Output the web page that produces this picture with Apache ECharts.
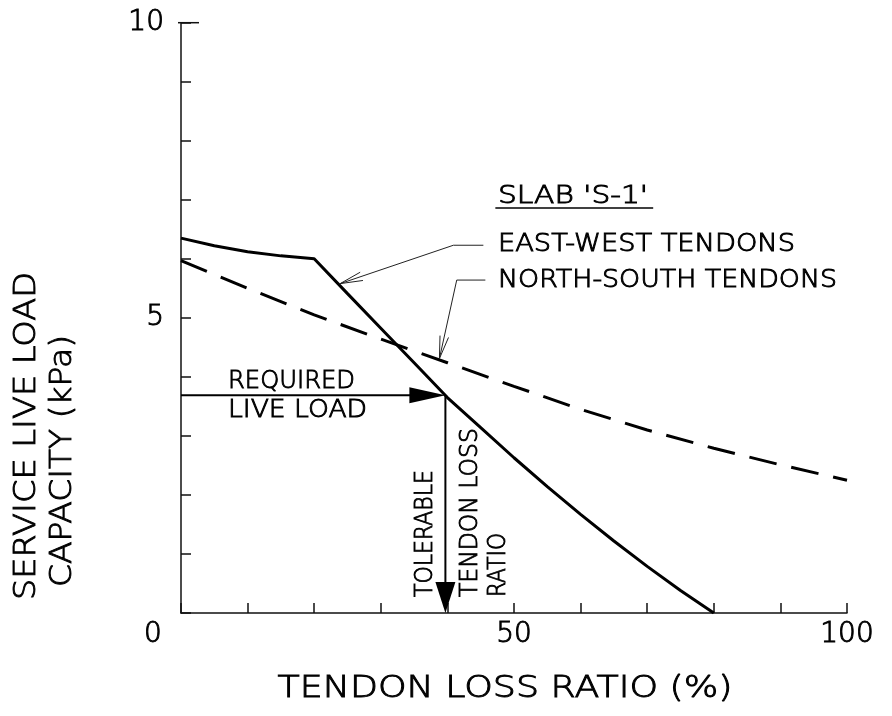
<!DOCTYPE html>
<html><head><meta charset="utf-8">
<script src="https://cdn.jsdelivr.net/npm/echarts@6/dist/echarts.min.js"></script>
<style>html,body{margin:0;padding:0;background:#fff}#c{width:892px;height:716px}</style>
</head><body><div id="c"></div>
<script>
// ---- data ----
const lossRatio = [0, 5, 10, 15, 20, 25, 30, 35, 40, 45, 50, 55, 60, 65, 70, 75, 80];
const eastWest = [6.35, 6.22, 6.12, 6.05, 6.0, 5.41, 4.825, 4.24, 3.65, 3.14, 2.63, 2.14, 1.67, 1.22, 0.79, 0.38, 0];
const nsLossRatio = [0, 10, 20, 30, 40, 50, 60, 70, 80, 90, 100];
const northSouth = [5.97, 5.5, 5.05, 4.64, 4.24, 3.84, 3.45, 3.1, 2.79, 2.51, 2.25];
const xTickLabels = [0, 50, 100];
const yTickLabels = [5, 10];
const requiredLiveLoad = 3.69;
const tolerableLoss = 39.7;

const FONT = '"DejaVu Sans", sans-serif';
const mctx = document.createElement('canvas').getContext('2d');
function measure(t, font) { mctx.font = font; return mctx.measureText(t).width; }

const chart = echarts.init(document.getElementById('c'), null, {renderer: 'canvas'});

function renderAnnot(params, api) {
  const c = p => api.coord(p);
  const ch = [];
  const blk = {stroke: '#000', lineWidth: 2};
  const A = c([0, requiredLiveLoad]), B = c([tolerableLoss, requiredLiveLoad]), C = c([tolerableLoss, 0]);
  ch.push({type: 'line', shape: {x1: A[0], y1: A[1], x2: B[0] - 30, y2: B[1]}, style: blk});
  ch.push({type: 'polygon', shape: {points: [[B[0], B[1]], [B[0] - 36, B[1] - 8], [B[0] - 36, B[1] + 8]]}, style: {fill: '#000'}});
  ch.push({type: 'line', shape: {x1: B[0], y1: B[1], x2: C[0], y2: C[1] - 28}, style: blk});
  ch.push({type: 'polygon', shape: {points: [[C[0], C[1]], [C[0] - 10, C[1] - 31], [C[0] + 10, C[1] - 31]]}, style: {fill: '#000'}});
  function leader(pts) {
    const p = pts.map(c);
    ch.push({type: 'polyline', shape: {points: p}, style: {stroke: '#222', lineWidth: 1, fill: null}});
    const tip = p[p.length - 1], prev = p[p.length - 2];
    const ang = Math.atan2(prev[1] - tip[1], prev[0] - tip[0]);
    [-1, 1].forEach(s => {
      const a = ang + s * 0.19;
      ch.push({type: 'line', shape: {x1: tip[0], y1: tip[1], x2: tip[0] + 23 * Math.cos(a), y2: tip[1] + 23 * Math.sin(a)}, style: {stroke: '#222', lineWidth: 1}});
    });
  }
  leader([[45.4, 6.23], [40.9, 6.23], [23.9, 5.58]]);
  leader([[45.7, 5.64], [41.4, 5.64], [38.8, 4.31]]);
  const u1 = c([47.2, 6.86]), u2 = c([70.9, 6.86]);
  ch.push({type: 'line', shape: {x1: u1[0], y1: u1[1], x2: u2[0], y2: u2[1]}, style: {stroke: '#000', lineWidth: 1.5}});
  // longer cap tick at the top of the y axis
  const T = c([0, 10]);
  ch.push({type: 'line', shape: {x1: T[0] - 3, y1: T[1], x2: T[0] + 18, y2: T[1]}, style: {stroke: '#111', lineWidth: 1.5}});
  return {type: 'group', children: ch};
}

const labelStyle = {fontSize: 28, fontFamily: FONT, fontWeight: 200, color: '#000', textBorderColor: '#000', textBorderWidth: 0.9};

const option = {
  backgroundColor: '#fff',
  animation: false,
  grid: {left: 181, right: 45, top: 22.7, bottom: 103, containLabel: false},
  xAxis: {
    type: 'value', min: 0, max: 100, interval: 10,
    axisLine: {show: true, lineStyle: {color: '#111', width: 1.5}},
    axisTick: {show: true, inside: true, length: 10, lineStyle: {color: '#111', width: 1.5}},
    splitLine: {show: false},
    axisLabel: Object.assign({
      margin: 8,
      formatter: v => xTickLabels.includes(v) ? (v === 0 ? '{z|0}' : String(v)) : '',
      rich: {z: Object.assign({padding: [0, 56, 0, 0]}, labelStyle)}
    }, labelStyle)
  },
  yAxis: {
    type: 'value', min: 0, max: 10, interval: 1,
    axisLine: {show: true, lineStyle: {color: '#111', width: 1.5}},
    axisTick: {show: true, inside: true, length: 10, lineStyle: {color: '#111', width: 1.5}},
    splitLine: {show: false},
    axisLabel: Object.assign({
      margin: 17,
      formatter: v => yTickLabels.includes(v) ? String(v) : ''
    }, labelStyle)
  },
  series: [
    {
      name: 'EAST-WEST TENDONS', type: 'line', symbol: 'none', silent: true,
      data: lossRatio.map((x, i) => [x, eastWest[i]]),
      lineStyle: {color: '#000', width: 3}
    },
    {
      name: 'NORTH-SOUTH TENDONS', type: 'line', symbol: 'none', silent: true,
      data: nsLossRatio.map((x, i) => [x, northSouth[i]]),
      lineStyle: {color: '#000', width: 3, type: [28, 15]}
    },
    {
      type: 'custom', coordinateSystem: 'cartesian2d', silent: true, z: 5,
      data: [[0, 0]], renderItem: renderAnnot
    }
  ]
};
chart.setOption(option);

function txt(t, size, x, y, len, rot, align) {
  const font = '200 ' + size + 'px ' + FONT;
  return {
    type: 'text', x: x, y: y, rotation: rot ? Math.PI / 2 : 0,
    scaleX: len / measure(t, font), silent: true, z: 10,
    style: {text: t, font: font, fill: '#000', stroke: '#000', lineWidth: 0.9,
      align: align || 'left', verticalAlign: 'middle',
      textAlign: align || 'left', textVerticalAlign: 'middle'}
  };
}
function dtxt(t, size, dx, dy, len, rot) {
  const p = chart.convertToPixel({gridIndex: 0}, [dx, dy]);
  return txt(t, size, p[0], p[1], len, rot);
}

chart.setOption({
  graphic: [
    txt('SERVICE LIVE LOAD', 31, 27, 600, 328, true),
    txt('CAPACITY (kPa)', 31, 63, 587, 252, true),
    txt('TENDON LOSS RATIO (%)', 31, 505, 689, 455, false, 'center'),
    dtxt("SLAB 'S-1'", 24, 47.6, 7.05, 150, false),
    dtxt('EAST-WEST TENDONS', 24, 47.6, 6.23, 297, false),
    dtxt('NORTH-SOUTH TENDONS', 24, 47.6, 5.63, 339, false),
    dtxt('REQUIRED', 24, 7.06, 3.92, 127, false),
    dtxt('LIVE LOAD', 24, 7.06, 3.43, 139, false),
    dtxt('TOLERABLE', 24, 36.8, 0.27, 127, true),
    dtxt('TENDON LOSS', 24, 43.56, 0.27, 169, true),
    dtxt('RATIO', 24, 47.77, 0.27, 64, true)
  ]
});
</script>
</body></html>
